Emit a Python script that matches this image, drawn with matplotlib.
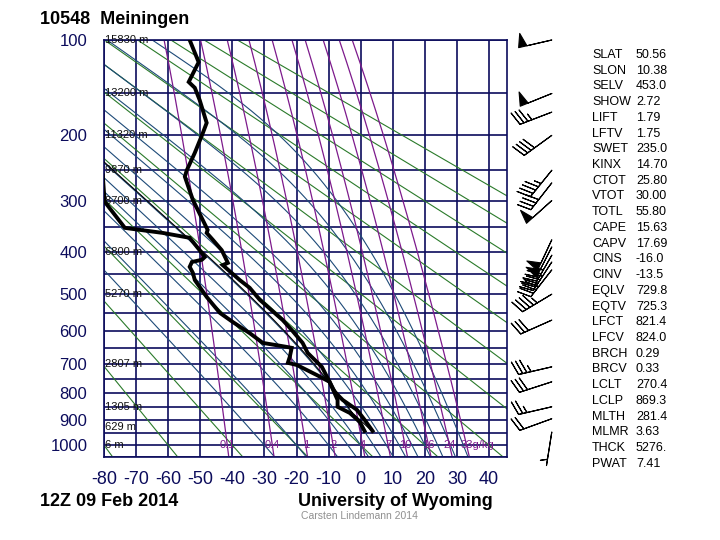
import numpy as np
import matplotlib
matplotlib.use('Agg')
import matplotlib.pyplot as plt

plt.rcParams['font.family'] = ['Liberation Sans', 'DejaVu Sans']

# ---------------- data ----------------
station_title = "10548  Meiningen"
time_label = "12Z 09 Feb 2014"

temp_p = [100, 119, 138, 144, 157, 184, 197, 224, 250, 260, 299, 355, 361, 375, 397, 425, 430,
          465, 484, 514, 569, 597, 635, 666, 710, 760, 795, 824, 860, 898, 942]
temp_c = [-53.3, -50.5, -53.6, -51.7, -50.2, -48.0, -49.2, -51.7, -54.2, -54.8, -52.3, -47.7, -48.0,
          -46.1, -43.3, -41.4, -43.0, -37.7, -34.6, -31.5, -24.3, -21.5, -18.1, -16.5, -12.1, -9.7,
          -8.1, -5.6, -1.2, 1.2, 3.7]

dew_p = [250, 257, 302, 351, 361, 371, 397, 412, 418, 423, 434, 448, 465, 507, 549, 574, 606, 635,
         647, 650, 678, 697, 704, 737, 760, 824, 849, 872, 906, 942]
dew_c = [-83.0, -80.4, -79.8, -73.5, -61.7, -53.3, -50.2, -48.6, -49.5, -52.6, -53.3, -52.3, -51.7,
         -48.0, -43.9, -39.9, -34.6, -30.5, -23.1, -21.5, -22.1, -22.7, -19.9, -13.7, -9.7, -7.2,
         -7.2, -3.4, -0.3, 1.2]

wind_p = [100, 150, 171, 200, 250, 270, 300, 375, 390, 408, 423, 441, 500, 569, 710, 760, 849, 894, 946]
wind_dir = [257, 248, 249, 234, 219, 218, 228, 205, 207, 210, 213, 218, 239, 246, 257, 252, 257, 250, 189]
wind_kt = [50, 50, 35, 40, 45, 40, 50, 50, 50, 45, 45, 40, 45, 30, 35, 30, 25, 20, 5]

height_p = [100, 150, 200, 250, 300, 400, 500, 700, 850, 925, 1000]
height_lbl = ["15830 m", "13200 m", "11320 m", "9870 m", "8700 m", "6800 m", "5270 m",
              "2807 m", "1305 m", "629 m", "6 m"]

press_ticks = [100, 200, 300, 400, 500, 600, 700, 800, 900, 1000]
temp_ticks = [-80, -70, -60, -50, -40, -30, -20, -10, 0, 10, 20, 30, 40]

mixr_vals = [0.1, 0.4, 1, 2, 4, 7, 10, 16, 24, 33]
mixr_lbls = ["0.1", "0.4", "1", "2", "4", "7", "10", "16", "24", "33g/kg"]

dry_theta_c = list(range(-80, 181, 20))
moist_tw_c = [-30, -20, -10, -4, 0, 4, 8, 12, 16, 20, 24, 28, 32]

param_names = ["SLAT", "SLON", "SELV", "SHOW", "LIFT", "LFTV", "SWET", "KINX", "CTOT", "VTOT",
               "TOTL", "CAPE", "CAPV", "CINS", "CINV", "EQLV", "EQTV", "LFCT", "LFCV", "BRCH",
               "BRCV", "LCLT", "LCLP", "MLTH", "MLMR", "THCK", "PWAT"]
param_vals = ["50.56", "10.38", "453.0", "2.72", "1.79", "1.75", "235.0", "14.70", "25.80", "30.00",
              "55.80", "15.63", "17.69", "-16.0", "-13.5", "729.8", "725.3", "821.4", "824.0", "0.29",
              "0.33", "270.4", "869.3", "281.4", "3.63", "5276.", "7.41"]

sfc_p = 942
lclt_k = 270.4
lclp = 869.3
mlth_k = 281.4

# ---------------- styles ----------------
NAVY = '#0c0c5c'
GREEN = '#2a7a2a'
BLUE = '#1d4a78'
PURPLE = '#7d1a8c'
KAPPA = 0.2857
W, H = 720, 540


def fx(px):
    return px / W


def fy(py):
    return 1 - py / H


def lapse(T, p):
    Rd, cp, Lv, eps = 287.04, 1005.7, 2.501e6, 0.622
    es = 6.112 * np.exp(17.67 * (T - 273.15) / (T - 29.65))
    rs = eps * es / (p - es)
    return (Rd * T + Lv * rs) / (p * (cp + Lv * Lv * rs * eps / (Rd * T * T)))


def moist_curve(T0, p0, p_end, n=300):
    ps = np.linspace(p0, p_end, n)
    Ts = np.empty(n)
    Ts[0] = T0
    for i in range(1, n):
        dp = ps[i] - ps[i - 1]
        k1 = lapse(Ts[i - 1], ps[i - 1])
        k2 = lapse(Ts[i - 1] + k1 * dp, ps[i])
        Ts[i] = Ts[i - 1] + 0.5 * (k1 + k2) * dp
    return ps, Ts


def dewpoint_of_w(w, p):
    e = w * p / (622.0 + w)
    l = np.log(e / 6.112)
    return 243.5 * l / (17.67 - l)


fig = plt.figure(figsize=(7.2, 5.4), dpi=100)
ax = fig.add_axes([fx(104), fy(457), fx(507) - fx(104), fy(40) - fy(457)])
fwd = lambda p: np.power(np.clip(p, 1e-9, None), KAPPA)
inv = lambda s: np.power(np.clip(s, 1e-9, None), 1 / KAPPA)
ax.set_yscale('function', functions=(fwd, inv))
ax.set_ylim(1050, 100)
ax.set_xlim(-80, 45.6)

# grid
for p in range(100, 1051, 50):
    ax.axhline(p, color=NAVY, lw=1.2, zorder=1)
for t in range(-80, 41, 10):
    ax.axvline(t, color=NAVY, lw=1.2, zorder=1)

pg = np.geomspace(100, 1050, 200)
# dry adiabats
for th in dry_theta_c:
    T = (th + 273.15) * (pg / 1000.0) ** KAPPA - 273.15
    ax.plot(T, pg, color=GREEN, lw=0.8, zorder=2)

# moist adiabats
for tw in moist_tw_c:
    pu, Tu = moist_curve(tw + 273.15, 1000.0, 100.0)
    pd, Td = moist_curve(tw + 273.15, 1000.0, 1050.0, n=20)
    ax.plot(np.r_[Td[::-1], Tu] - 273.15, np.r_[pd[::-1], pu], color=BLUE, lw=0.8, zorder=2)

# mixing ratio lines
for w, lbl in zip(mixr_vals, mixr_lbls):
    ax.plot(dewpoint_of_w(w, pg), pg, color=PURPLE, lw=0.9, zorder=2)
    ha = 'center'
    xt = dewpoint_of_w(w, 1000.0)
    if 'g/kg' in lbl:
        ha = 'left'
        xt = xt - 2.0
    ax.text(xt, 1000, lbl, color=PURPLE, fontsize=8, ha=ha, va='center', zorder=3)

# height labels
for p, lbl in zip(height_p, height_lbl):
    ax.text(-79.6, p, lbl, fontsize=8, ha='left', va='center', color='#111111', zorder=3)

# parcel path
p_dry = np.linspace(sfc_p, lclp, 20)
T_dry = mlth_k * (p_dry / 1000.0) ** KAPPA
p_m, T_m = moist_curve(lclt_k, lclp, 100.0)
ax.plot(np.r_[T_dry, T_m] - 273.15, np.r_[p_dry, p_m], color='k', lw=0.8, zorder=4)

# sounding
ax.plot(temp_c, temp_p, color='k', lw=2.8, zorder=5, solid_joinstyle='miter')
ax.plot(dew_c, dew_p, color='k', lw=2.8, zorder=5, solid_joinstyle='miter')

ax.set_yticks(press_ticks)
ax.set_yticklabels([str(p) for p in press_ticks])
ax.yaxis.set_minor_locator(matplotlib.ticker.NullLocator())
ax.set_xticks(temp_ticks)
ax.set_xticklabels([str(t) for t in temp_ticks])
ax.tick_params(axis='y', length=0, pad=12, labelsize=12, labelcolor=NAVY)
ax.tick_params(axis='x', length=0, pad=10, labelsize=13, labelcolor=NAVY)
for s in ax.spines.values():
    s.set_color(NAVY)
    s.set_linewidth(1.2)

# wind barbs
bx = fig.add_axes([fx(505), fy(457), fx(565) - fx(505), fy(40) - fy(457)], sharey=ax)
bx.set_xlim(0, 1)
bx.axis('off')
wd = np.radians(np.array(wind_dir))
sp = np.array(wind_kt, dtype=float)
u = -sp * np.sin(wd)
v = -sp * np.cos(wd)
bx.barbs(np.full(len(wind_p), 0.78), wind_p, u, v, length=7, pivot='tip', lw=0.8, color='k',
         clip_on=False)

# texts
fig.text(fx(40), fy(20), station_title, fontsize=13, fontweight='bold', ha='left', va='center')
fig.text(fx(40), fy(502), time_label, fontsize=13, fontweight='bold', ha='left', va='center')
fig.text(fx(395), fy(502), "University of Wyoming", fontsize=13, fontweight='bold', ha='center', va='center')
fig.text(fx(359), fy(516), "Carsten Lindemann 2014", fontsize=7.5, color='#909090', ha='center', va='center')

for i, (k, val) in enumerate(zip(param_names, param_vals)):
    yy = 55 + i * 15.72
    fig.text(fx(592), fy(yy), k, fontsize=9, ha='left', va='center')
    fig.text(fx(636), fy(yy), val, fontsize=9, ha='left', va='center')

fig.savefig('out.png', dpi=100)
